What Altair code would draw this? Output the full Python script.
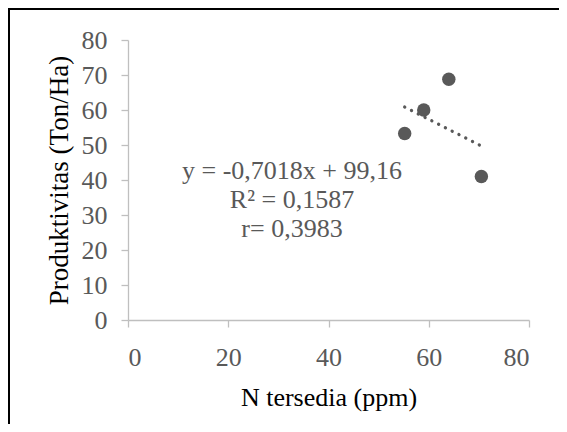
import altair as alt
import pandas as pd

# Data
n_tersedia = [55.2, 59.0, 64.0, 70.5]
produktivitas = [53.3, 60.0, 68.8, 41.0]
annot_lines = ["y = -0,7018x + 99,16", "R² = 0,1587", "r= 0,3983"]
x_ticks = [0, 20, 40, 60, 80]
y_ticks = [0, 10, 20, 30, 40, 50, 60, 70, 80]

df = pd.DataFrame({"x": n_tersedia, "y": produktivitas})

FONT = "Liberation Serif"
GRAY = "#595959"
AXIS_GRAY = "#bfbfbf"

x_enc = alt.X(
    "x:Q",
    scale=alt.Scale(domain=[0, 80], nice=False),
    axis=alt.Axis(
        title="N tersedia (ppm)",
        values=x_ticks,
        grid=False,
        labelOverlap=False,
        domainColor=AXIS_GRAY,
        domainWidth=1.3,
        tickColor=AXIS_GRAY,
        tickWidth=1.3,
        tickSize=7,
        labelFont=FONT,
        labelFontSize=26,
        labelColor=GRAY,
        labelPadding=17,
        titleFont=FONT,
        titleFontSize=26,
        titleFontWeight="normal",
        titleColor="#000000",
        titlePadding=14,
    ),
)
y_enc = alt.Y(
    "y:Q",
    scale=alt.Scale(domain=[0, 80], nice=False),
    axis=alt.Axis(
        title="Produktivitas (Ton/Ha)",
        values=y_ticks,
        tickCount=9,
        grid=False,
        labelOverlap=False,
        domainColor=AXIS_GRAY,
        domainWidth=1.3,
        tickColor=AXIS_GRAY,
        tickWidth=1.3,
        tickSize=7,
        labelFont=FONT,
        labelFontSize=26,
        labelColor=GRAY,
        labelPadding=14,
        titleFont=FONT,
        titleFontSize=27,
        titleFontWeight="normal",
        titleColor="#000000",
        titlePadding=8,
    ),
)

points = alt.Chart(df).mark_point(
    filled=True, size=180, color=GRAY, opacity=1
).encode(x=x_enc, y=y_enc)

trend = alt.Chart(df).transform_regression("x", "y").mark_line(
    color=GRAY, strokeWidth=3.3, strokeDash=[0.1, 7.5], strokeCap="round"
).encode(x=x_enc, y=y_enc)

annot_layers = []
for i, line in enumerate(annot_lines):
    annot_layers.append(
        alt.Chart(pd.DataFrame({"t": [line]})).mark_text(
            font=FONT, fontSize=26, color=GRAY, align="center", baseline="middle"
        ).encode(text="t:N", x=alt.value(164), y=alt.value(131 + 29 * i))
    )

# outer frame: only the top and left sides are visible in the reference
frame_src = pd.DataFrame({"b": [0]})
frame_top = alt.Chart(frame_src).mark_rule(color="#000000", strokeWidth=2).encode(
    x=alt.value(-119), x2=alt.value(700), y=alt.value(-31)
)
frame_left = alt.Chart(frame_src).mark_rule(color="#000000", strokeWidth=2).encode(
    x=alt.value(-119), y=alt.value(-32), y2=alt.value(700)
)

chart = alt.layer(points, trend, frame_top, frame_left, *annot_layers).properties(
    width=401,
    height=280,
    autosize=alt.AutoSizeParams(type="none"),
    padding={"left": 120, "top": 32, "right": 30, "bottom": 104},
).configure_view(stroke=None)

chart.save("out.html", embed_options={"renderer": "svg", "actions": False})
